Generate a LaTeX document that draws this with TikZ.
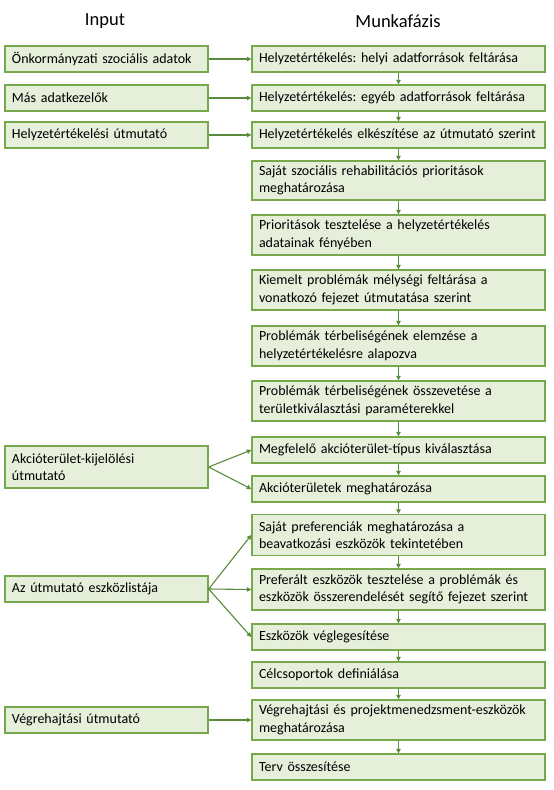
\documentclass[tikz,border=0pt]{standalone}
\usepackage{fontspec}
\setmainfont{Carlito}
\frenchspacing
\usetikzlibrary{arrows.meta}
\definecolor{boxfill}{HTML}{E6EFDA}
\definecolor{boxdraw}{HTML}{76A84C}
\definecolor{arr}{HTML}{5A8A3C}
\begin{document}
\begin{tikzpicture}[x=1pt,y=-1pt,
  box/.style={draw=boxdraw, line width=1.4pt, fill=boxfill, rectangle, inner xsep=7pt, inner ysep=0pt, align=left, font=\fontsize{14}{17.5}\selectfont},
  rbox/.style={box, text width=279pt},
  lbox/.style={box, text width=189pt},
  head/.style={font=\fontsize{18.5}{22}\selectfont},
  conn/.style={draw=arr, line width=1.1pt, -{Triangle[length=4.5pt,width=4.5pt]}}]
\useasboundingbox (0,0) rectangle (554,790);
\node[head] (hin) at (105,21) {Input};
\node[head] (hmf) at (398,21) {Munkafázis};
% right column
\node[rbox, minimum height=26pt] (r1) at (398.5,59) {Helyzetértékelés: helyi adatforrások feltárása};
\node[rbox, minimum height=26pt] (r2) at (398.5,98) {Helyzetértékelés: egyéb adatforrások feltárása};
\node[rbox, minimum height=26pt] (r3) at (398.5,135) {Helyzetértékelés elkészítése az útmutató szerint};
\node[rbox, minimum height=39pt] (r4) at (398.5,180.5) {Saját szociális rehabilitációs prioritások\\meghatározása};
\node[rbox, minimum height=40pt] (r5) at (398.5,235) {Prioritások tesztelése a helyzetértékelés\\adatainak fényében};
\node[rbox, minimum height=40pt] (r6) at (398.5,290) {Kiemelt problémák mélységi feltárása a\\vonatkozó fejezet útmutatása szerint};
\node[rbox, minimum height=40pt] (r7) at (398.5,346) {Problémák térbeliségének elemzése a\\helyzetértékelésre alapozva};
\node[rbox, minimum height=40pt] (r8) at (398.5,401) {Problémák térbeliségének összevetése a\\területkiválasztási paraméterekkel};
\node[rbox, minimum height=26pt] (r9) at (398.5,450) {Megfelelő akcióterület-típus kiválasztása};
\node[rbox, minimum height=26pt] (r10) at (398.5,489) {Akcióterületek meghatározása};
\node[rbox, minimum height=41pt] (r11) at (398.5,535) {Saját preferenciák meghatározása a\\beavatkozási eszközök tekintetében};
\node[rbox, minimum height=41pt] (r12) at (398.5,589.5) {Preferált eszközök tesztelése a problémák és\\eszközök összerendelését segítő fejezet szerint};
\node[rbox, minimum height=26pt] (r13) at (398.5,637) {Eszközök véglegesítése};
\node[rbox, minimum height=26pt] (r14) at (398.5,675) {Célcsoportok definiálása};
\node[rbox, minimum height=40pt] (r15) at (398.5,720) {Végrehajtási és projektmenedzsment-eszközök\\meghatározása};
\node[rbox, minimum height=26pt] (r16) at (398.5,767) {Terv összesítése};
% left column
\node[lbox, minimum height=26pt] (l1) at (106.5,59) {Önkormányzati szociális adatok};
\node[lbox, minimum height=26pt] (l2) at (106.5,98) {Más adatkezelők};
\node[lbox, minimum height=26pt] (l3) at (106.5,135) {Helyzetértékelési útmutató};
\node[lbox, minimum height=42pt] (l4) at (106.5,467) {Akcióterület-kijelölési\\útmutató};
\node[lbox, minimum height=26pt] (l5) at (106.5,589) {Az útmutató eszközlistája};
\node[lbox, minimum height=26pt] (l6) at (106.5,720) {Végrehajtási útmutató};
% vertical connectors
\foreach \a/\b in {r1/r2,r2/r3,r3/r4,r4/r5,r5/r6,r6/r7,r7/r8,r8/r9,r9/r10,r10/r11,r11/r12,r12/r13,r13/r14,r14/r15,r15/r16}
  \draw[conn] (\a.south) -- (\b.north);
% horizontal connectors
\draw[conn] (l1.east) -- (r1.west);
\draw[conn] (l2.east) -- (r2.west);
\draw[conn] (l3.east) -- (r3.west);
\draw[conn] (l4.east) -- (r9.west);
\draw[conn] (l4.east) -- (r10.west);
\draw[conn] (l5.east) -- (r11.west);
\draw[conn] (l5.east) -- (r12.west);
\draw[conn] (l5.east) -- (r13.west);
\draw[conn] (l6.east) -- (r15.west);
\end{tikzpicture}
\end{document}
